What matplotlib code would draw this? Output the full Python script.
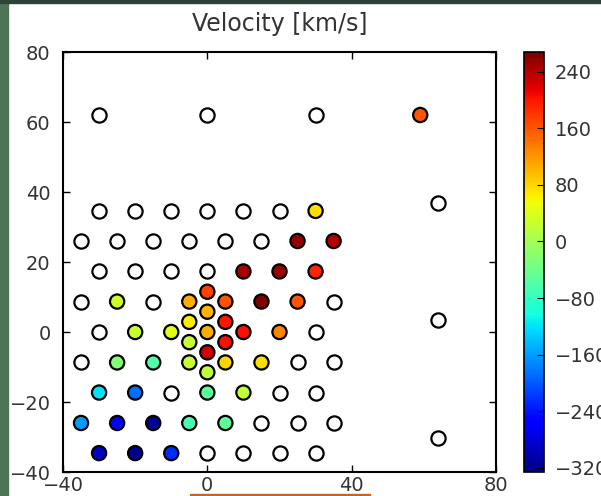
import matplotlib
matplotlib.use("Agg")
import matplotlib.pyplot as plt
from matplotlib.patches import Rectangle

# points with a measured velocity
x_vel = [30, 25, 35, 10, 20, 30,
         -25, -5, 5, 15, 25,
         0, 0, -5, 5,
         -20, -10, 0, 10, 20,
         -5, 5, 0, 0,
         -25, -15, -5, 5, 15,
         -30, -20, 0, 10,
         -35, -25, -15, -5, 5,
         -30, -20, -10,
         59]
y_vel = [34.6, 26.0, 26.0, 17.3, 17.3, 17.3,
         8.7, 8.7, 8.7, 8.7, 8.7,
         11.5, 5.8, 2.9, 2.9,
         0, 0, 0, 0, 0,
         -2.9, -2.9, -5.8, -11.5,
         -8.7, -8.7, -8.7, -8.7, -8.7,
         -17.3, -17.3, -17.3, -17.3,
         -26.0, -26.0, -26.0, -26.0, -26.0,
         -34.6, -34.6, -34.6,
         62]
v = [75, 255, 238, 245, 255, 190,
     30, 105, 160, 268, 160,
     175, 100, 65, 200,
     25, 45, 105, 205, 130,
     25, 205, 225, 20,
     -25, -60, 25, 80, 75,
     -120, -185, -55, 20,
     -160, -260, -315, -70, -50,
     -290, -318, -225,
     160]

# fibres without a measurement
x_empty = [-30, -20, -10, 0, 10, 20,
           -35, -25, -15, -5, 5, 15,
           -30, -20, -10, 0,
           -35, -15, 35,
           -30, 30,
           -35, 25, 35,
           -10, 20, 30,
           15, 25, 35,
           0, 10, 20, 30,
           -30, 0, 30,
           64, 64, 64]
y_empty = [34.6] * 6 + [26.0] * 6 + [17.3] * 4 + [8.7] * 3 + [0] * 2 + \
          [-8.7] * 3 + [-17.3] * 3 + [-26.0] * 3 + [-34.6] * 4 + \
          [62, 62, 62, 37, 3.4, -30.3]

cb_ticks = [-320, -240, -160, -80, 0, 80, 160, 240]

fig = plt.figure(figsize=(6.01, 4.96), dpi=100)
fig.patch.set_facecolor("white")
# slide background showing around the figure
fig.patches.append(Rectangle((0, 0), 8 / 601, 1, transform=fig.transFigure,
                             color="#4e7458", zorder=-1))
fig.patches.append(Rectangle((0, 1 - 3 / 496), 1, 3 / 496, transform=fig.transFigure,
                             color="#2c4438", zorder=-1))
fig.patches.append(Rectangle((190 / 601, 0), 180 / 601, 2 / 496, transform=fig.transFigure,
                             color="#c8641e", zorder=-1))

ax = fig.add_axes([63 / 601, 24 / 496, 433 / 601, 420 / 496])
cax = fig.add_axes([524 / 601, 24 / 496, 20 / 601, 420 / 496])

ax.scatter(x_empty, y_empty, s=105, facecolor="white", edgecolor="k",
           linewidth=1.6, zorder=3)
sc = ax.scatter(x_vel, y_vel, c=v, s=105, cmap="jet", vmin=-326, vmax=268,
                edgecolor="k", linewidth=1.6, zorder=3)

ax.set_xlim(-40, 80)
ax.set_ylim(-40, 80)
ax.set_xticks([-40, 0, 40, 80])
ax.set_yticks([-40, -20, 0, 20, 40, 60, 80])
ax.tick_params(direction="in", length=5, width=1, top=True, right=True,
               labelsize=14, labelcolor="#333333", pad=3)
ax.tick_params(axis="y", pad=9)
for s in ax.spines.values():
    s.set_linewidth(1.5)
ax.set_title("Velocity [km/s]", fontsize=17, color="#333333", pad=15)

cb = fig.colorbar(sc, cax=cax, ticks=cb_ticks)
cb.ax.tick_params(direction="in", length=5, labelsize=14, labelcolor="#333333", pad=8)
cb.outline.set_linewidth(1.2)

fig.savefig("out.png", dpi=100)
